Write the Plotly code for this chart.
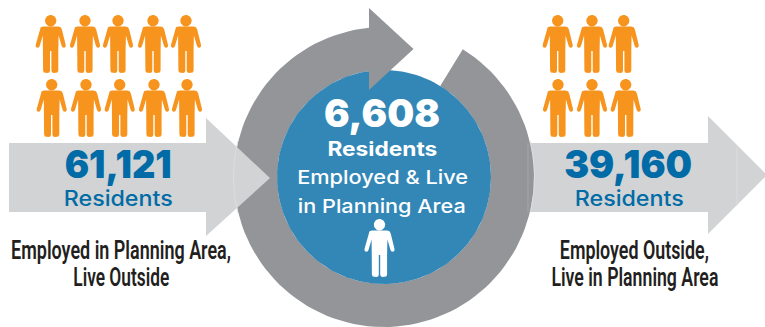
import json
import numpy as np
import plotly.graph_objects as go

# Head counts for each group of pictograms
left_top_x = [50.7, 85, 118, 153, 186]
left_bottom_x = [51.7, 86, 119.7, 154, 187]
right_top_x = [557.7, 592, 623.7]
right_bottom_x = [558, 592, 625.7]
top_row_y = 15
bottom_row_y = 79

# Text content
inflow_value = "61,121"
outflow_value = "39,160"
both_value = "6,608"
unit = "Residents"
inflow_caption = ["Employed in Planning Area,", "Live Outside"]
outflow_caption = ["Employed Outside,", "Live in Planning Area"]
both_caption = ["Employed &amp; Live", "in Planning Area"]

ORANGE = "#f7941e"
GREY = "#939598"
LIGHT = "#d1d3d4"
SEAM = "#dfe0e2"
BLUE = "#3287b7"
DARK_BLUE = "#006ba6"
TEXT = "#231f20"

CX, CY = 384, 177
R_OUT, R_IN = 150, 107


def arc(r, a0, a1, n=120):
    t = np.radians(np.linspace(a0, a1, n))
    return CX + r * np.cos(t), CY + r * np.sin(t)


def person(cx, top, scale=1.0):
    """Silhouette outline: head circle plus body polygon, with a gap between."""
    t = np.linspace(0, 2 * np.pi, 28)
    hx = list(5.7 * np.cos(t))
    hy = list(5.7 + 5.7 * np.sin(t))
    half = [
        (0, 11.4), (7.6, 11.4), (10.0, 12.2), (11.2, 14.5), (14.9, 29.5), (15.0, 31.4),
        (13.7, 32.8), (12.0, 32.6), (11.0, 31.0), (7.9, 20.5), (7.6, 36), (7.6, 55.5),
        (6.8, 57.4), (5.0, 58), (2.8, 58), (1.2, 57.2), (0.7, 55.5), (0.7, 36), (0, 36),
    ]
    left = [(-x, y) for x, y in reversed(half)]
    bx = [p[0] for p in half + left]
    by = [p[1] for p in half + left]
    xs = hx + [None] + bx
    ys = hy + [None] + by
    return (
        [None if v is None else cx + v * scale for v in xs],
        [None if v is None else top + v * scale for v in ys],
    )


fig = go.Figure()


def blob(x, y, color):
    fig.add_trace(go.Scatter(
        x=list(x), y=list(y), mode="lines", fill="toself", fillcolor=color,
        line=dict(width=0, color=color), hoverinfo="skip", showlegend=False,
    ))


def hairline(x, y, color, dash="solid"):
    fig.add_trace(go.Scatter(
        x=list(x), y=list(y), mode="lines", line=dict(width=0.8, color=color, dash=dash),
        hoverinfo="skip", showlegend=False,
    ))


def crowd(xs, top):
    for x in xs:
        px, py = person(x, top)
        blob(px, py, ORANGE)


# Outgoing arrow sits behind the ring
blob([528, 708, 708, 765, 765, 708, 708, 528],
     [143, 143, 116, 173, 177, 234, 212, 212], LIGHT)
hairline([737, 737], [146, 206], SEAM)

# Ring running clockwise from the upper right round to the arrow head at the top
a_start = np.degrees(np.arctan2(49 - CY, 463 - CX))
a_end = 360 + np.degrees(np.arctan2(-149, -15))
ox, oy = arc(R_OUT, a_start, a_end)
ix, iy = arc(R_IN, a_end, a_start)
blob(np.r_[ox, ix], np.r_[oy, iy], GREY)

# Faint overlap marks where the outgoing arrow passes under the ring
hairline([528, 528], [143, 212], "#a9abae")
sx, sy = arc(R_OUT + 0.5, -14, 14, 30)
hairline(sx, sy, SEAM)

# Centre disc
dx, dy = arc(R_IN, 0, 360, 180)
blob(dx, dy, BLUE)

# Ring's arrow head overlaps the disc
blob([369, 413.5, 369], [8, 49, 90], GREY)

# Incoming arrow overlaps the ring
blob([9, 206, 206, 270, 206, 206, 9], [143, 143, 118, 178, 236, 212, 212], LIGHT)
sx, sy = arc(R_OUT + 0.5, 166, 194, 30)
hairline(sx, sy, SEAM)

crowd(left_top_x, top_row_y)
crowd(left_bottom_x, bottom_row_y)
crowd(right_top_x, top_row_y)
crowd(right_bottom_x, bottom_row_y)

px, py = person(379.5, 219, 1.0)
blob(px, py, "#ffffff")

# Horizontal extent of each label, applied in the browser as a scale on its SVG text
fitted = []


def label(x, y, text, size, color, width, family="Inter", weight=400):
    fitted.append(width)
    fig.add_annotation(
        x=x, y=y, text=text, showarrow=False, xanchor="center", yanchor="middle",
        font=dict(family=family, size=size, color=color, weight=weight),
    )


label(118, 164, inflow_value, 38, DARK_BLUE, 107, weight=900)
label(118, 198, unit, 21, DARK_BLUE, 109, weight=500)
label(628, 164, outflow_value, 38, DARK_BLUE, 128, weight=900)
label(628.5, 198, unit, 21, DARK_BLUE, 109, weight=500)

label(382, 113, both_value, 38, "#ffffff", 116, weight=900)
label(382, 149, unit, 20, "#ffffff", 110, weight=700)
label(382.5, 177, both_caption[0], 19, "#ffffff", 171, weight=500)
label(382, 206, both_caption[1], 19, "#ffffff", 168, weight=500)

CAPTION = "Roboto"
label(121, 250, inflow_caption[0], 25, TEXT, 220, CAPTION, 600)
label(121, 277, inflow_caption[1], 25, TEXT, 96, CAPTION, 600)
label(634.5, 250, outflow_caption[0], 25, TEXT, 149, CAPTION, 600)
label(634.5, 277, outflow_caption[1], 25, TEXT, 167, CAPTION, 600)

fig.update_layout(
    width=765, height=327, margin=dict(l=0, r=0, t=0, b=0),
    paper_bgcolor="white", plot_bgcolor="white",
    xaxis=dict(range=[0, 765], visible=False, fixedrange=True),
    yaxis=dict(range=[327, 0], visible=False, fixedrange=True),
)

# Scale each annotation horizontally about its centre to reach the wanted width
fit_script = """
var widths = %s;
document.querySelectorAll('.annotation-text').forEach(function (el, i) {
    var natural = el.getComputedTextLength();
    var box = el.getBBox();
    var mid = box.x + box.width / 2;
    var k = widths[i] / natural;
    el.setAttribute('transform',
        'translate(' + mid + ',0) scale(' + k + ',1) translate(' + (-mid) + ',0)');
});
""" % json.dumps(fitted)

fig.write_html("out.html", config={"displayModeBar": False}, post_script=fit_script)
